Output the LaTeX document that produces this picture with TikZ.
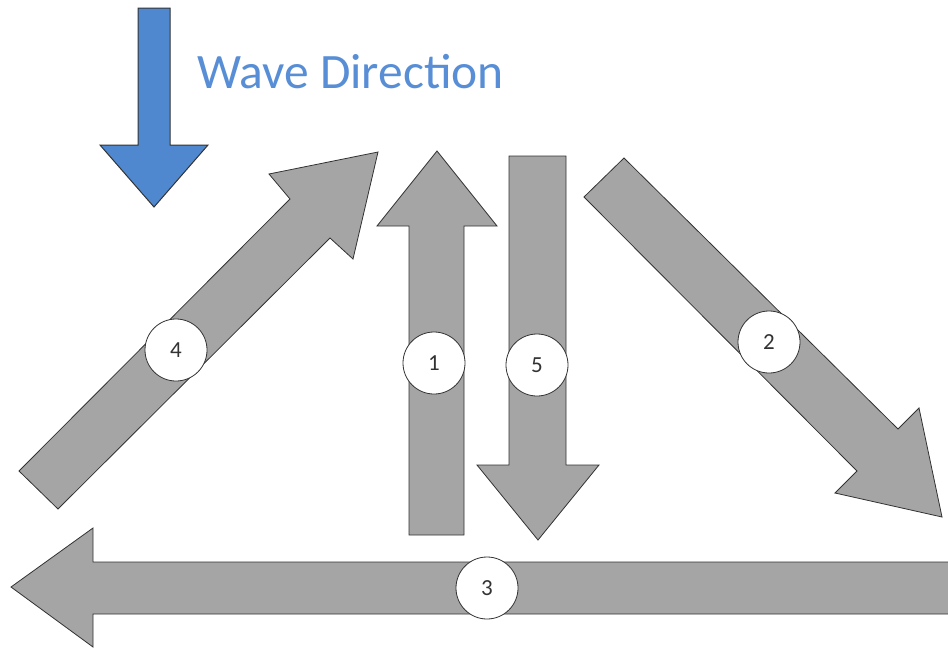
\documentclass[tikz,border=0pt]{standalone}
\usepackage{fontspec}
\setmainfont{Carlito}
\definecolor{waveblue}{RGB}{80,136,208}
\definecolor{wavetext}{RGB}{88,142,214}
\definecolor{arrowgray}{RGB}{165,165,165}
\definecolor{edgegray}{RGB}{50,50,50}
\tikzset{
  grayarrow/.style={fill=arrowgray, draw=edgegray, line width=0.8pt, line join=miter},
  bluearrow/.style={fill=waveblue, draw=black!80, line width=1pt, line join=miter},
  numcircle/.style={circle, fill=white, draw=edgegray, line width=0.8pt, minimum size=62pt, inner sep=0pt, font=\fontsize{23}{27}\selectfont, text=black!80}
}
\begin{document}
\begin{tikzpicture}[x=1pt,y=-1pt]
\useasboundingbox (0,0) rectangle (948,649);
\clip (0,0) rectangle (948,649);
% wave direction arrow
\draw[bluearrow] (138,8) -- (170,8) -- (170,145) -- (208,145) -- (154,207) -- (100,145) -- (138,145) -- cycle;
\node[anchor=base west, text=wavetext, font=\fontsize{49.5}{58}\selectfont, inner sep=0pt] (title) at (197,88) {Wave Direction};
% arrow 4
\draw[grayarrow] (19,471) -- (290,199) -- (269,174) -- (378,152) -- (353,259) -- (330,238) -- (58,509) -- cycle;
% arrow 1
\draw[grayarrow] (409,535) -- (409,226) -- (377,226) -- (437,151) -- (497,226) -- (464,226) -- (464,535) -- cycle;
% arrow 5
\draw[grayarrow] (509,156) -- (566,156) -- (566,465) -- (599,465) -- (538,540) -- (477,465) -- (509,465) -- cycle;
% arrow 2
\draw[grayarrow] (624,158) -- (898,429) -- (919,408) -- (942,517) -- (835,493) -- (857,471) -- (584,197) -- cycle;
% arrow 3
\draw[grayarrow] (960,562) -- (93,562) -- (93,528) -- (11,587) -- (93,647) -- (93,614) -- (960,614) -- cycle;
% labels
\node[numcircle] (n4) at (176,350) {4};
\node[numcircle] (n1) at (434,363) {1};
\node[numcircle] (n5) at (537,365) {5};
\node[numcircle] (n2) at (769,342) {2};
\node[numcircle] (n3) at (487,588) {3};
\end{tikzpicture}
\end{document}
